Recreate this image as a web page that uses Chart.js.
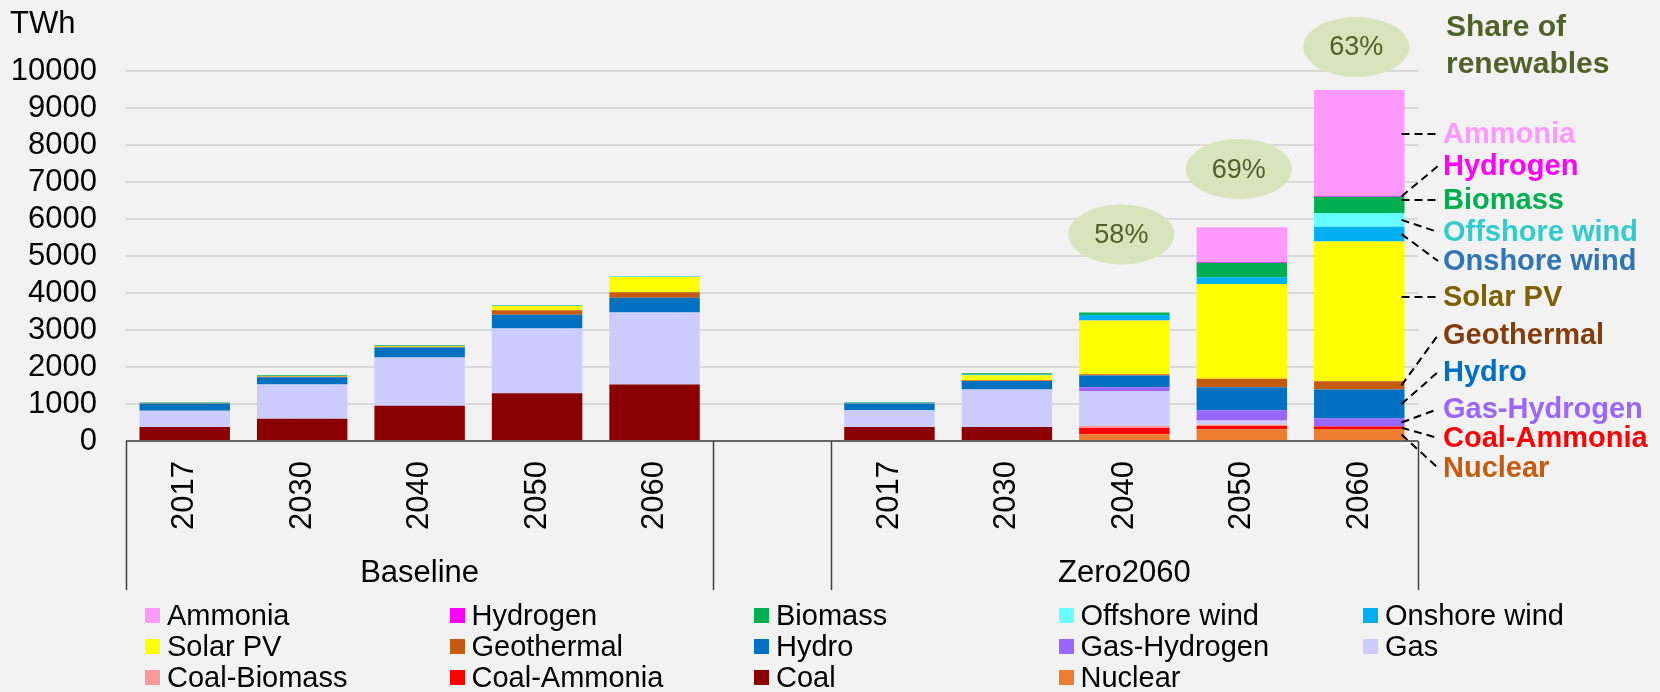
<!DOCTYPE html>
<html>
<head>
<meta charset="utf-8">
<script src="https://cdn.jsdelivr.net/npm/chart.js@4.4.0/dist/chart.umd.min.js"></script>
<style>
  html, body { margin: 0; padding: 0; background: #f2f2f2; }
  #wrap { position: relative; width: 1660px; height: 692px; }
  #legend { position: absolute; left: 0; top: 0; font-family: "Liberation Sans", Arial, sans-serif; font-size: 29px; color: #000; }
  .item { position: absolute; display: flex; align-items: center; height: 31px; white-space: nowrap; }
  .box { width: 15px; height: 15px; margin-right: 7px; }
</style>
</head>
<body>
<div id="wrap">
  <canvas id="chart" width="1660" height="692"></canvas>
  <div id="legend"></div>
</div>
<script>
// categories: 5 Baseline years, one empty slot, 5 Zero2060 years
const years = ['2017', '2030', '2040', '2050', '2060', '', '2017', '2030', '2040', '2050', '2060'];
const groups = ['Baseline', 'Zero2060'];

// TWh, bottom of the stack first
const nuclear     = [0, 0, 0, 0, 0, null, 0, 0, 180, 320, 325];
const coal        = [380, 600, 950, 1290, 1530, null, 380, 380, 0, 0, 0];
const coalAmmonia = [0, 0, 0, 0, 0, null, 0, 0, 170, 85, 70];
const coalBiomass = [0, 0, 0, 0, 0, null, 0, 0, 55, 40, 0];
const gas         = [440, 930, 1310, 1750, 1940, null, 450, 1010, 940, 110, 0];
const gasHydrogen = [0, 0, 0, 0, 0, null, 0, 0, 110, 275, 210];
const hydro       = [190, 195, 270, 370, 405, null, 185, 230, 315, 620, 785];
const geothermal  = [8, 20, 20, 125, 145, null, 8, 20, 35, 235, 225];
const solarPV     = [5, 10, 15, 115, 415, null, 5, 135, 1450, 2560, 3780];
const onshore     = [5, 5, 5, 5, 5, null, 5, 20, 150, 180, 395];
const offshore    = [0, 0, 0, 0, 5, null, 0, 0, 0, 0, 370];
const biomass     = [15, 15, 15, 15, 10, null, 15, 35, 65, 390, 440];
const hydrogen    = [0, 0, 0, 0, 0, null, 0, 0, 0, 20, 20];
const ammonia     = [0, 0, 0, 0, 0, null, 0, 0, 0, 945, 2865];

// share of renewables (Zero2060 2040, 2050, 2060)
const shareCats = [8, 9, 10];
const shareValues = [58, 69, 63];

const series = [
  { name: 'Nuclear', data: nuclear, color: '#ED7D31' },
  { name: 'Coal', data: coal, color: '#8B0000' },
  { name: 'Coal-Ammonia', data: coalAmmonia, color: '#FF0000' },
  { name: 'Coal-Biomass', data: coalBiomass, color: '#FF9999' },
  { name: 'Gas', data: gas, color: '#CCCCFF' },
  { name: 'Gas-Hydrogen', data: gasHydrogen, color: '#9966FF' },
  { name: 'Hydro', data: hydro, color: '#0070C0' },
  { name: 'Geothermal', data: geothermal, color: '#C55A11' },
  { name: 'Solar PV', data: solarPV, color: '#FFFF00' },
  { name: 'Onshore wind', data: onshore, color: '#00B0F0' },
  { name: 'Offshore wind', data: offshore, color: '#66FFFF' },
  { name: 'Biomass', data: biomass, color: '#00B050' },
  { name: 'Hydrogen', data: hydrogen, color: '#FF00FF' },
  { name: 'Ammonia', data: ammonia, color: '#FF99FF' }
];

// labels to the right of the last bar
const callouts = [
  { name: 'Ammonia', color: '#FF99FF', y: 134 },
  { name: 'Hydrogen', color: '#FF00FF', y: 166 },
  { name: 'Biomass', color: '#00B050', y: 200 },
  { name: 'Offshore wind', color: '#33CCCC', y: 232 },
  { name: 'Onshore wind', color: '#2E75B6', y: 261 },
  { name: 'Solar PV', color: '#7F6000', y: 297 },
  { name: 'Geothermal', color: '#843C0C', y: 335 },
  { name: 'Hydro', color: '#0070C0', y: 372 },
  { name: 'Gas-Hydrogen', color: '#9966FF', y: 409 },
  { name: 'Coal-Ammonia', color: '#FF0000', y: 438 },
  { name: 'Nuclear', color: '#C55A11', y: 468 }
];
const bubbleAt = [5580, 7350, 10650]; // bubble centres in axis units

const FONT = '"Liberation Sans", Arial, sans-serif';
Chart.defaults.font.family = FONT;
Chart.defaults.color = '#000';

const overlay = {
  id: 'overlay',
  afterDraw(chart) {
    const { ctx, chartArea: a, scales: { x, y } } = chart;
    const step = x.getPixelForValue(1) - x.getPixelForValue(0);
    const edge = i => x.getPixelForValue(i) - step / 2;
    const boxBottom = a.bottom + 149;
    ctx.save();

    // category axis box
    ctx.strokeStyle = '#404040';
    ctx.lineWidth = 1.5;
    ctx.beginPath();
    ctx.moveTo(a.left, a.bottom);
    ctx.lineTo(a.right, a.bottom);
    [0, 5, 6, 11].forEach(i => {
      const px = Math.round(edge(i)) + 0.5;
      ctx.moveTo(px, a.bottom);
      ctx.lineTo(px, boxBottom);
    });
    ctx.stroke();

    ctx.fillStyle = '#000';
    ctx.font = '31px ' + FONT;
    ctx.textAlign = 'center';
    ctx.textBaseline = 'middle';
    ctx.fillText(groups[0], (edge(0) + edge(5)) / 2, a.bottom + 132);
    ctx.fillText(groups[1], (edge(6) + edge(11)) / 2, a.bottom + 132);

    // unit
    ctx.textAlign = 'left';
    ctx.textBaseline = 'alphabetic';
    ctx.fillText('TWh', 10, 33);

    // share bubbles
    shareCats.forEach((c, i) => {
      const cx = x.getPixelForValue(c) - 3;
      const cy = y.getPixelForValue(bubbleAt[i]);
      ctx.fillStyle = '#D8E4BC';
      ctx.beginPath();
      ctx.ellipse(cx, cy, 53, 30, 0, 0, Math.PI * 2);
      ctx.fill();
      ctx.fillStyle = '#4F6228';
      ctx.font = '27px ' + FONT;
      ctx.textAlign = 'center';
      ctx.textBaseline = 'middle';
      ctx.fillText(shareValues[i] + '%', cx, cy + 1);
    });

    ctx.fillStyle = '#4F6228';
    ctx.font = 'bold 30px ' + FONT;
    ctx.textAlign = 'left';
    ctx.textBaseline = 'alphabetic';
    ctx.fillText('Share of', 1446, 36);
    ctx.fillText('renewables', 1446, 73);

    // callouts with dashed leaders to the last bar
    const lx = a.right + 25;
    callouts.forEach(c => {
      const di = series.findIndex(s => s.name === c.name);
      const bar = chart.getDatasetMeta(di).data[years.length - 1];
      const top = Math.min(bar.y, bar.base), bot = Math.max(bar.y, bar.base);
      const sy = (c.y >= top && c.y <= bot) ? c.y : (top + bot) / 2;
      ctx.strokeStyle = '#000';
      ctx.lineWidth = 2;
      ctx.setLineDash([8, 5]);
      ctx.beginPath();
      ctx.moveTo(bar.x + bar.width / 2 - 3, sy);
      ctx.lineTo(lx - 5, c.y);
      ctx.stroke();
      ctx.setLineDash([]);
      ctx.fillStyle = c.color;
      ctx.font = 'bold 29px ' + FONT;
      ctx.textAlign = 'left';
      ctx.textBaseline = 'middle';
      ctx.fillText(c.name, lx, c.y + 1);
    });
    ctx.restore();
  }
};

new Chart(document.getElementById('chart'), {
  type: 'bar',
  data: {
    labels: years,
    datasets: series.map(s => ({
      label: s.name,
      data: s.data,
      backgroundColor: s.color,
      borderWidth: 0,
      categoryPercentage: 1,
      barPercentage: 0.77
    }))
  },
  options: {
    responsive: false,
    animation: false,
    layout: { padding: { left: 0, right: 242, top: 71, bottom: 102 } },
    plugins: { legend: { display: false }, tooltip: { enabled: false } },
    scales: {
      x: {
        stacked: true,
        grid: { display: false },
        border: { display: false },
        ticks: { minRotation: 90, maxRotation: 90, autoSkip: false, padding: 12, color: '#000', font: { size: 31 } },
        afterFit: s => { s.height = 149; }
      },
      y: {
        stacked: true,
        min: 0,
        max: 10000,
        ticks: {
          stepSize: 1000, autoSkip: false, padding: 29, color: '#000', font: { size: 31 },
          callback: v => String(v)
        },
        grid: { color: '#D9D9D9', lineWidth: 2, drawTicks: false },
        border: { display: false },
        afterFit: s => { s.width = 126; }
      }
    }
  },
  plugins: [overlay]
});

// legend in five columns, top of the stack first
const legend = document.getElementById('legend');
series.slice().reverse().forEach((s, i) => {
  const el = document.createElement('div');
  el.className = 'item';
  el.style.left = (145 + (i % 5) * 304.5) + 'px';
  el.style.top = (600 + Math.floor(i / 5) * 31) + 'px';
  el.innerHTML = '<span class="box" style="background:' + s.color + '"></span>' + s.name;
  legend.appendChild(el);
});
</script>
</body>
</html>
